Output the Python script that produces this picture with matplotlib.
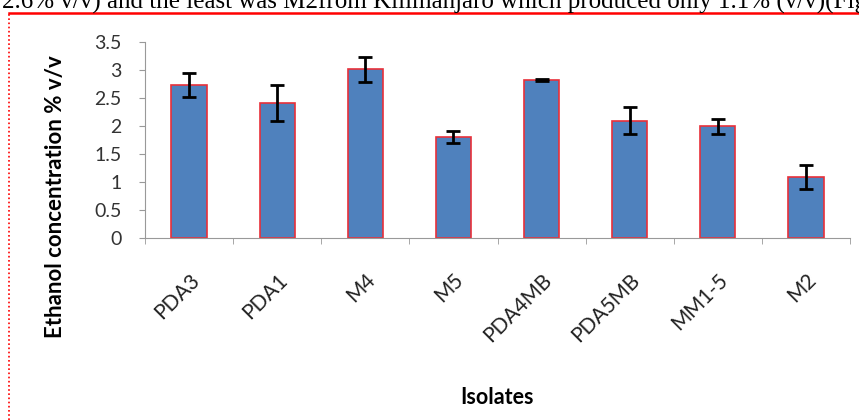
import matplotlib.pyplot as plt
from matplotlib.lines import Line2D

isolates = ["PDA3", "PDA1", "M4", "M5", "PDA4MB", "PDA5MB", "MM1-5", "M2"]
ethanol = [2.73, 2.40, 3.01, 1.80, 2.82, 2.09, 1.99, 1.09]
err = [0.21, 0.32, 0.22, 0.10, 0.02, 0.24, 0.14, 0.22]
y_ticks = [0, 0.5, 1, 1.5, 2, 2.5, 3, 3.5]
y_tick_labels = ["0", "0.5", "1", "1.5", "2", "2.5", "3", "3.5"]

caption = "2.6% v/v) and the least was M2from Kilimanjaro which produced only 1.1% (v/v)(Fig"

plt.rcParams['font.family'] = ['Lato', 'DejaVu Sans']

fig = plt.figure(figsize=(8.59, 4.20), dpi=100)
ax = fig.add_axes([145/859, 1 - 238/420, (850 - 145)/859, (238 - 41.7)/420])

x = list(range(len(isolates)))
ax.bar(x, ethanol, width=0.4, color="#4F81BD", edgecolor="#E8303A", linewidth=1.2,
       yerr=err, capsize=5, error_kw=dict(ecolor="black", elinewidth=2, capthick=2))

ax.set_xlim(-0.5, len(isolates) - 0.5)
ax.set_ylim(0, 3.5)
ax.set_yticks(y_ticks)
ax.set_yticklabels(y_tick_labels, fontsize=14, color="#333333")
ax.set_xticks(x)
ax.set_xticklabels(isolates, rotation=45, ha="right", rotation_mode="anchor",
                   fontsize=15, color="#222222")
ax.set_xticks([i - 0.5 for i in range(len(isolates) + 1)], minor=True)
ax.tick_params(axis="x", which="major", length=0, pad=23)
ax.tick_params(axis="x", which="minor", length=4, color="#999999", direction="out")
ax.tick_params(axis="y", length=4, color="#999999", direction="out", pad=13)

for side in ["top", "right"]:
    ax.spines[side].set_visible(False)
ax.spines["left"].set_color("#999999")
ax.spines["bottom"].set_color("#999999")

ax.set_ylabel("Ethanol concentration % v/v", fontsize=16, fontweight="bold")
ax.yaxis.set_label_coords(-0.112, 0.21)
ax.set_xlabel("Isolates", fontsize=15.5, fontweight="bold")
ax.xaxis.set_label_coords(0.5, -0.76)

# caption line cut off at the top of the screenshot
fig.text(0.002, 1 - 9/420, caption, family="Liberation Serif", fontsize=18,
         ha="left", va="baseline")

# red frame around the chart
fig.add_artist(Line2D([9/859, 1], [1 - 12.7/420] * 2, color="red", linewidth=1.8,
                      transform=fig.transFigure))
fig.add_artist(Line2D([9/859, 9/859], [0, 1 - 12.7/420], color="red", linewidth=1.2,
                      linestyle=(0, (1, 1.5)), transform=fig.transFigure))

fig.savefig("out.png", dpi=100)
